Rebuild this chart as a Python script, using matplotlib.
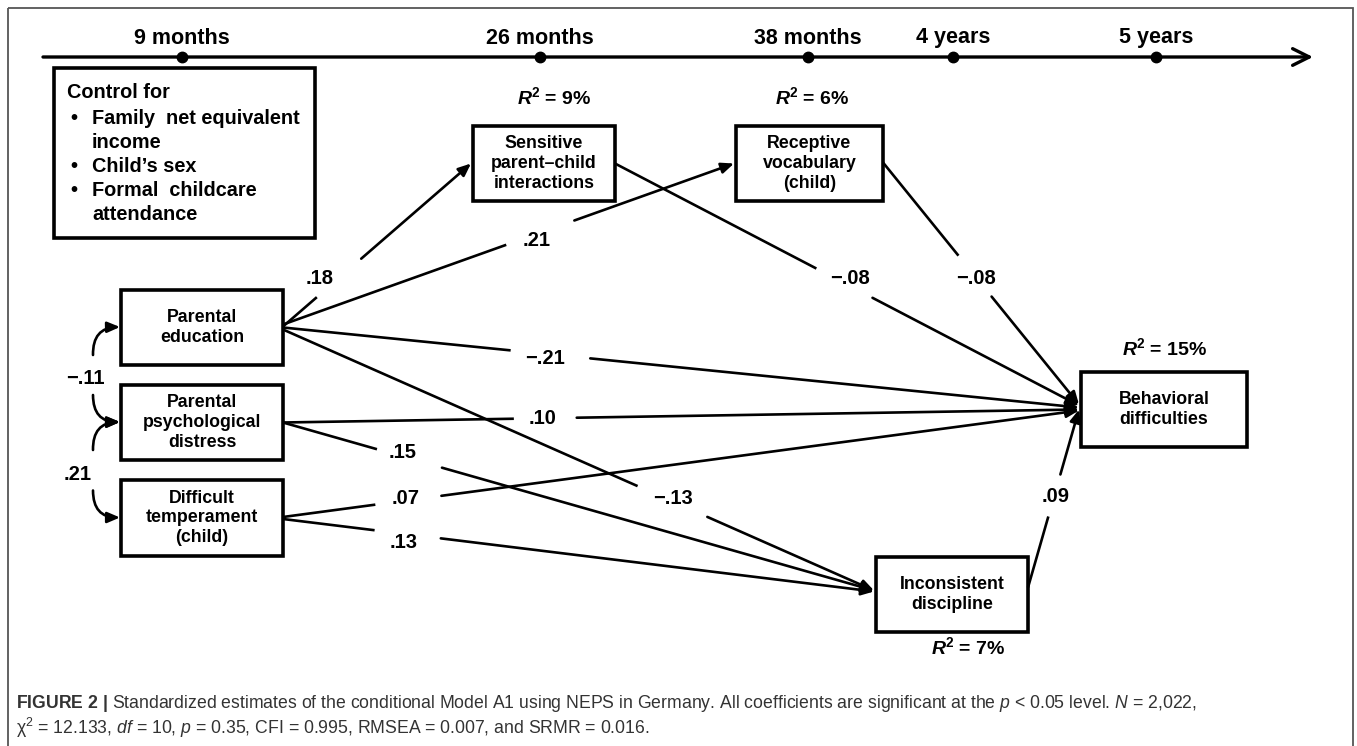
import matplotlib
matplotlib.use("Agg")
import matplotlib.pyplot as plt
from matplotlib.patches import Rectangle, FancyArrowPatch

plt.rcParams['font.family'] = ['Liberation Sans', 'DejaVu Sans']
plt.rcParams['mathtext.fontset'] = 'custom'
plt.rcParams['mathtext.rm'] = 'Liberation Sans'
plt.rcParams['mathtext.it'] = 'Liberation Sans:italic'
plt.rcParams['mathtext.bf'] = 'Liberation Sans:bold'
plt.rcParams['mathtext.bfit'] = 'Liberation Sans:italic:bold'

# ---- data -------------------------------------------------------------
time_labels = ['9 months', '26 months', '38 months', '4 years', '5 years']
time_x = [182, 540, 808, 953, 1156]

control_title = 'Control for'
control_items = ['Family  net equivalent\nincome', "Child\u2019s sex", 'Formal  childcare\nattendance']

# box: x0, y0, x1, y1 (pixel layout)
nodes = {
    'educ':      ('Parental\neducation', (121, 290, 283, 365)),
    'distress':  ('Parental\npsychological\ndistress', (121, 385, 283, 460)),
    'temper':    ('Difficult\ntemperament\n(child)', (121, 480, 283, 556)),
    'sensitive': ('Sensitive\nparent\u2013child\ninteractions', (473, 126, 615, 201)),
    'receptive': ('Receptive\nvocabulary\n(child)', (736, 126, 883, 201)),
    'behav':     ('Behavioral\ndifficulties', (1081, 372, 1247, 447)),
    'incons':    ('Inconsistent\ndiscipline', (876, 557, 1028, 632)),
}

r2_nodes = ['sensitive', 'receptive', 'behav', 'incons']
r2_values = ['9%', '6%', '15%', '7%']
r2_pos = [(554, 97), (812, 97), (1165, 348), (968, 647)]

# paths: source, target, coefficient, label position, gap along line, port offsets
paths = [
    ('educ', 'sensitive', '.18', (320, 278), (0.18, 0.416), -1, 0),
    ('educ', 'receptive', '.21', (537, 240), (0.495, 0.646), -3, 0),
    ('educ', 'behav', '\u2212.21', (545, 358), (0.286, 0.386), 0, -2),
    ('educ', 'incons', '\u2212.13', (673, 498), (0.60, 0.718), 2, -4),
    ('distress', 'behav', '.10', (543, 419), (0.29, 0.369), 0, 0),
    ('distress', 'incons', '.15', (403, 453), (0.159, 0.269), 0, -4),
    ('temper', 'behav', '.07', (406, 499), (0.116, 0.199), -1, 1),
    ('temper', 'incons', '.13', (404, 543), (0.155, 0.267), 1, -3),
    ('sensitive', 'behav', '\u2212.08', (850, 278), (0.434, 0.555), 0, -4),
    ('receptive', 'behav', '\u2212.08', (976, 279), (0.385, 0.554), -1, -5),
    ('incons', 'behav', '.09', (1056, 497), (0.399, 0.635), -7, 0),
]

# correlations between exogenous variables
correlations = [('educ', 'distress', '\u2212.11', (85, 378)),
                ('distress', 'temper', '.21', (78, 475))]

caption1 = (r'$\mathbf{FIGURE\ 2\ |}$ Standardized estimates of the conditional Model A1 using NEPS '
            r'in Germany. All coefficients are significant at the $p$ < 0.05 level. $N$ = 2,022,')
caption2 = ('\u03c7$^{2}$ = 12.133, $df$ = 10, $p$ = 0.35, CFI = 0.995, RMSEA = 0.007, '
            'and SRMR = 0.016.')

# ---- figure -------------------------------------------------------------
W, H = 1357, 746
fig = plt.figure(figsize=(W / 100, H / 100), dpi=100)
ax = fig.add_axes([0, 0, 1, 1])
ax.set_xlim(0, W)
ax.set_ylim(H, 0)
ax.axis('off')

ax.add_patch(Rectangle((8, 8), W - 12, 900, fill=False, ec='#555555', lw=1.3))

# timeline
ty = 57
ax.add_patch(FancyArrowPatch((43, ty), (1313, ty), arrowstyle='->,head_length=1.2,head_width=0.6',
                             mutation_scale=10, lw=2.4, color='black', shrinkA=0, shrinkB=0))
ax.plot(time_x, [ty] * len(time_x), 'o', ms=7.5, color='black')
for lab, x in zip(time_labels, time_x):
    ax.text(x, 38, lab, ha='center', va='center', fontsize=15.5, fontweight='bold')

# control box
ax.add_patch(Rectangle((54, 68), 315 - 54, 238 - 68, fill=False, ec='black', lw=2.6))
ax.text(67, 93, control_title, ha='left', va='center', fontsize=14.3, fontweight='bold')
yy = 118
for item in control_items:
    ax.text(70, yy, '\u2022', ha='left', va='center', fontsize=14.3, fontweight='bold')
    for part in item.split('\n'):
        ax.text(92, yy, part, ha='left', va='center', fontsize=14.3, fontweight='bold')
        yy += 24


def center(name):
    x0, y0, x1, y1 = nodes[name][1]
    return (x0 + x1) / 2, (y0 + y1) / 2


for name, (txt, (x0, y0, x1, y1)) in nodes.items():
    ax.add_patch(Rectangle((x0, y0), x1 - x0, y1 - y0, fill=False, ec='black', lw=2.6))
    cx, cy = center(name)
    ax.text(cx, cy, txt, ha='center', va='center', fontsize=12.8, fontweight='bold',
            linespacing=1.2)

for name, val, (x, y) in zip(r2_nodes, r2_values, r2_pos):
    ax.text(x, y, r'$\mathbfit{R}^{\mathbf{2}}$ = ' + val, ha='center', va='center',
            fontsize=14, fontweight='bold')

# paths
for src, dst, lab, (lx, ly), (t0, t1), ds, dd in paths:
    sx0, sy0, sx1, sy1 = nodes[src][1]
    dx0, dy0, dx1, dy1 = nodes[dst][1]
    p0 = (sx1, (sy0 + sy1) / 2 + ds)
    p1 = (dx0 - 2, (dy0 + dy1) / 2 + dd)
    ga = (p0[0] + t0 * (p1[0] - p0[0]), p0[1] + t0 * (p1[1] - p0[1]))
    gb = (p0[0] + t1 * (p1[0] - p0[0]), p0[1] + t1 * (p1[1] - p0[1]))
    ax.plot([p0[0], ga[0]], [p0[1], ga[1]], color='black', lw=1.9, solid_capstyle='butt')
    ax.add_patch(FancyArrowPatch(gb, p1, arrowstyle='-|>,head_length=0.75,head_width=0.32',
                                 mutation_scale=10, lw=1.9, color='black',
                                 shrinkA=0, shrinkB=0))
    ax.text(lx, ly, lab, ha='center', va='center', fontsize=14.5, fontweight='bold')

# correlations: two curved arrows split by the label
for a, b, lab, (lx, ly) in correlations:
    ax.text(lx, ly, lab, ha='center', va='center', fontsize=14.5, fontweight='bold')
    ax_x0 = nodes[a][1][0]
    _, ay = center(a)
    _, by = center(b)
    ya = ay - 0.5
    yb = by - 0.5
    ax.add_patch(FancyArrowPatch((93, ya + 28), (ax_x0 - 1, ya), connectionstyle='arc3,rad=-0.5',
                                 arrowstyle='-|>,head_length=0.75,head_width=0.32',
                                 mutation_scale=10, lw=1.9, color='black', shrinkA=0, shrinkB=0))
    ax.add_patch(FancyArrowPatch((93, yb - 27), (ax_x0 - 1, yb), connectionstyle='arc3,rad=0.5',
                                 arrowstyle='-|>,head_length=0.75,head_width=0.32',
                                 mutation_scale=10, lw=1.9, color='black', shrinkA=0, shrinkB=0))

# caption
ax.text(16, 704, caption1, ha='left', va='center', fontsize=12.7, color='#333333')
ax.text(16, 728, caption2, ha='left', va='center', fontsize=12.7, color='#333333')

fig.savefig('out.png', dpi=100)
